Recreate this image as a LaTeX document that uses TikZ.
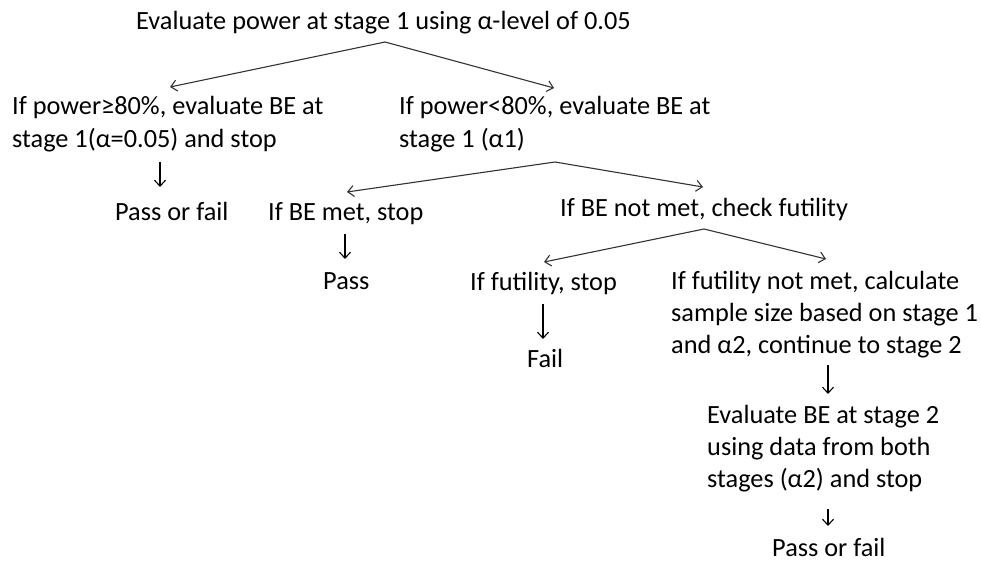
\documentclass[tikz,border=0pt]{standalone}
\usepackage{fontspec}
\setmainfont{Carlito}
\usetikzlibrary{arrows.meta}
\begin{document}
\begin{tikzpicture}[x=1pt,y=-1pt,
  txt/.style={anchor=base west,inner sep=0pt,align=left,font=\fontsize{26.3}{32}\selectfont,text=black},
  fork/.style={draw=black!80,line width=1.1pt,-{Straight Barb[length=6pt,width=11pt]}},
  down/.style={draw=black,line width=1.1pt,-{Straight Barb[length=6pt,width=11pt]}}]
\useasboundingbox[fill=white] (0,0) rectangle (981,561);
\node[txt] (top) at (136,30) {Evaluate power at stage 1 using α-level of 0.05};
\node[txt,font=\fontsize{26.3}{33}\selectfont] (hi) at (12,148) {If power≥80\%, evaluate BE at\\stage 1(α=0.05) and stop};
\node[txt,font=\fontsize{26.3}{33}\selectfont] (lo) at (399,148) {If power<80\%, evaluate BE at\\stage 1 (α1)};
\node[txt] (pf1) at (115,220) {Pass or fail};
\node[txt] (met) at (268,220) {If BE met, stop};
\node[txt] (notmet) at (560,217) {If BE not met, check futility};
\node[txt] (pass) at (323,289) {Pass};
\node[txt] (fut) at (470,290) {If futility, stop};
\node[txt] (nofut) at (671,353) {If futility not met, calculate\\sample size based on stage 1\\and α2, continue to stage 2};
\node[txt] (fail) at (527,367) {Fail};
\node[txt] (eval2) at (707,487) {Evaluate BE at stage 2\\using data from both\\stages (α2) and stop};
\node[txt] (pf2) at (772,556) {Pass or fail};
% fork apexes
\coordinate (a1) at (385,42);
\coordinate (a2) at (555,162);
\coordinate (a3) at (704,229);
\draw[fork] (a1) -- (170,87);
\draw[fork] (a1) -- (554,88);
\draw[fork] (a2) -- (347,192);
\draw[fork] (a2) -- (703,187);
\draw[fork] (a3) -- (544,262);
\draw[fork] (a3) -- (826,259);
% down arrows
\draw[down] (160,162) -- (160,187);
\draw[down] (345,234) -- (345,259);
\draw[down] (543,304) -- (543,339);
\draw[down] (828,365) -- (828,394);
\draw[down] (828,509) -- (828,526);
\end{tikzpicture}
\end{document}
